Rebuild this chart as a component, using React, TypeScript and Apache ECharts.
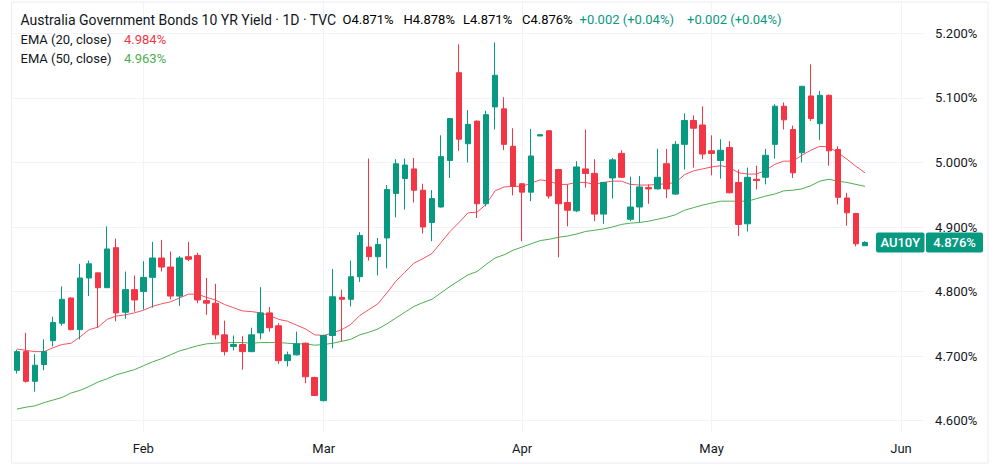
import React, { useEffect, useRef } from "react";
import * as echarts from "echarts";

const dates = [
  "2026-01-13","2026-01-14","2026-01-15","2026-01-16","2026-01-19","2026-01-20","2026-01-21","2026-01-22","2026-01-23","2026-01-26","2026-01-27","2026-01-28","2026-01-29","2026-01-30",
  "2026-02-02","2026-02-03","2026-02-04","2026-02-05","2026-02-06","2026-02-09","2026-02-10","2026-02-11","2026-02-12","2026-02-13","2026-02-16","2026-02-17","2026-02-18","2026-02-19","2026-02-20","2026-02-23","2026-02-24","2026-02-25","2026-02-26","2026-02-27",
  "2026-03-02","2026-03-03","2026-03-04","2026-03-05","2026-03-06","2026-03-09","2026-03-10","2026-03-11","2026-03-12","2026-03-13","2026-03-16","2026-03-17","2026-03-18","2026-03-19","2026-03-20","2026-03-23","2026-03-24","2026-03-25","2026-03-26","2026-03-27","2026-03-30","2026-03-31",
  "2026-04-01","2026-04-02","2026-04-06","2026-04-07","2026-04-08","2026-04-09","2026-04-10","2026-04-13","2026-04-14","2026-04-15","2026-04-16","2026-04-17","2026-04-20","2026-04-21","2026-04-22","2026-04-23","2026-04-24","2026-04-27","2026-04-28","2026-04-29","2026-04-30",
  "2026-05-01","2026-05-04","2026-05-05","2026-05-06","2026-05-07","2026-05-08","2026-05-11","2026-05-12","2026-05-13","2026-05-14","2026-05-15","2026-05-18","2026-05-19","2026-05-20","2026-05-21","2026-05-22","2026-05-25","2026-05-26","2026-05-27","2026-05-28","2026-05-29",
  "2026-06-01","2026-06-02","2026-06-03"
];

const monthNames = ["Jan","Feb","Mar","Apr","May","Jun","Jul","Aug","Sep","Oct","Nov","Dec"];

const openV = [
  4.678,4.707,4.661,4.687,4.724,4.751,4.790,4.741,4.821,4.829,
  4.806,4.868,4.768,4.803,4.800,4.822,4.852,4.838,4.793,4.854,
  4.856,4.786,4.782,4.733,4.715,4.718,4.707,4.736,4.767,4.747,
  4.693,4.702,4.720,4.667,4.631,4.732,4.791,4.788,4.823,4.869,
  4.854,4.883,4.952,4.975,4.990,4.957,4.907,4.931,5.003,5.139,
  5.029,5.064,4.936,5.086,5.083,5.025,4.967,4.954,5.041,5.049,
  4.989,4.938,4.925,4.990,4.983,4.920,4.976,5.014,4.912,4.931,
  4.961,4.959,4.998,4.951,5.028,5.065,5.058,5.018,5.003,5.023,
  4.969,4.905,4.974,4.977,5.028,5.087,5.051,5.015,5.103,5.060,
  5.104,5.020,4.945,4.921,4.871
];
const highV = [
  4.710,4.736,4.703,4.726,4.761,4.808,4.791,4.843,4.848,4.829,
  4.901,4.882,4.831,4.825,4.847,4.877,4.880,4.862,4.855,4.877,
  4.860,4.821,4.812,4.755,4.732,4.731,4.744,4.807,4.776,4.751,
  4.707,4.738,4.721,4.668,4.733,4.835,4.803,4.848,4.892,5.006,
  4.883,4.965,5.005,5.006,5.007,4.967,4.957,5.042,5.068,5.183,
  5.081,5.065,5.080,5.186,5.101,5.053,4.968,5.052,5.043,5.050,
  4.990,4.966,5.002,5.051,5.005,4.970,5.007,5.019,4.978,4.979,
  4.966,5.021,5.021,5.033,5.076,5.073,5.087,5.042,5.036,5.033,
  4.989,4.992,4.995,5.021,5.090,5.093,5.057,5.118,5.152,5.111,
  5.105,5.025,4.953,4.922,4.878
];
const lowV = [
  4.673,4.659,4.645,4.678,4.715,4.747,4.740,4.726,4.793,4.744,
  4.806,4.754,4.758,4.769,4.772,4.775,4.831,4.788,4.778,4.847,
  4.782,4.764,4.726,4.701,4.709,4.679,4.706,4.726,4.738,4.688,
  4.684,4.701,4.658,4.638,4.630,4.712,4.723,4.777,4.815,4.848,
  4.825,4.836,4.915,4.927,4.938,4.890,4.878,4.930,4.976,5.018,
  5.000,4.914,4.932,5.051,5.019,4.949,4.878,4.940,5.041,4.944,
  4.853,4.901,4.923,4.961,4.909,4.905,4.944,4.976,4.909,4.907,
  4.936,4.958,4.945,4.950,4.989,4.992,5.005,4.980,4.975,4.952,
  4.886,4.893,4.958,4.966,5.006,5.051,4.976,5.000,5.064,5.035,
  4.995,4.935,4.902,4.870,4.871
];
const closeV = [
  4.707,4.661,4.686,4.707,4.752,4.788,4.741,4.821,4.843,4.806,
  4.866,4.767,4.803,4.787,4.822,4.852,4.838,4.793,4.852,4.850,
  4.787,4.782,4.733,4.707,4.718,4.707,4.733,4.767,4.744,4.693,
  4.702,4.719,4.668,4.639,4.732,4.792,4.788,4.823,4.887,4.854,
  4.873,4.958,4.998,4.996,4.957,4.900,4.944,5.009,5.068,5.036,
  5.059,4.936,5.074,5.135,5.028,4.963,4.954,5.010,5.043,4.948,
  4.936,4.926,4.993,4.983,4.920,4.969,5.004,4.977,4.931,4.962,
  4.959,4.977,4.959,5.028,5.065,5.053,5.013,5.014,5.019,4.953,
  4.904,4.977,4.972,5.011,5.087,5.066,4.984,5.118,5.068,5.104,
  5.018,4.946,4.922,4.874,4.876
];
const ema20 = [
  4.711,4.709,4.707,4.707,4.713,4.718,4.720,4.730,4.741,4.745,
  4.757,4.762,4.764,4.767,4.771,4.777,4.781,4.784,4.790,4.796,
  4.796,4.791,4.787,4.780,4.775,4.770,4.769,4.767,4.763,4.757,
  4.754,4.748,4.742,4.733,4.732,4.736,4.741,4.749,4.763,4.772,
  4.781,4.798,4.816,4.830,4.844,4.851,4.859,4.876,4.893,4.907,
  4.922,4.923,4.935,4.956,4.962,4.963,4.963,4.968,4.973,4.971,
  4.966,4.966,4.969,4.969,4.966,4.969,4.971,4.971,4.966,4.965,
  4.965,4.966,4.967,4.969,4.981,4.987,4.990,4.993,4.995,4.992,
  4.984,4.982,4.982,4.988,4.997,5.002,5.002,5.011,5.019,5.025,
  5.024,5.015,5.005,4.994,4.984
];
const ema50 = [
  4.618,4.621,4.623,4.628,4.632,4.636,4.643,4.647,4.653,4.660,
  4.665,4.671,4.675,4.679,4.685,4.691,4.696,4.702,4.708,4.712,
  4.716,4.719,4.720,4.721,4.721,4.721,4.720,4.721,4.721,4.721,
  4.720,4.719,4.719,4.717,4.718,4.720,4.723,4.726,4.733,4.737,
  4.742,4.750,4.759,4.768,4.777,4.783,4.788,4.798,4.808,4.817,
  4.826,4.831,4.842,4.852,4.857,4.864,4.869,4.874,4.879,4.881,
  4.884,4.886,4.889,4.893,4.895,4.897,4.900,4.904,4.906,4.907,
  4.909,4.912,4.915,4.919,4.926,4.930,4.934,4.937,4.940,4.940,
  4.940,4.940,4.944,4.948,4.951,4.956,4.957,4.959,4.964,4.971,
  4.974,4.971,4.969,4.966,4.963
];

const UP = "#089981";
const DOWN = "#F23645";
const EMA20C = "#F7525F";
const EMA50C = "#4CAF50";
const TEXT = "#131722";
const GRID = "#f0f3fa";
const FONT = "Roboto, 'Open Sans', sans-serif";

const monthOf = (d: string) => parseInt(d.slice(5, 7), 10) - 1;
const isMonthStart = (i: number) => i > 0 && monthOf(dates[i]) !== monthOf(dates[i - 1]);

export default function App() {
  const ref = useRef<HTMLDivElement>(null);
  useEffect(() => {
    if (!ref.current) return;
    const chart = echarts.init(ref.current, undefined, { renderer: "svg" });
    const n = closeV.length;
    const candle = openV.map((o, i) => [o, closeV[i], lowV[i], highV[i]]);
    const last = closeV[n - 1];
    const chg = last - closeV[n - 2];
    const chgPct = (chg / closeV[n - 2]) * 100;
    const fmt = (v: number) => v.toFixed(3) + "%";
    const sign = (v: number) => (v >= 0 ? "+" : "");
    const chgText = `${sign(chg)}${chg.toFixed(3)} (${sign(chgPct)}${chgPct.toFixed(2)}%)`;

    const gridLeft = 12.49;
    const gridRight = 76.4;

    chart.setOption({
      animation: false,
      backgroundColor: "#ffffff",
      textStyle: { fontFamily: FONT },
      grid: [
        { left: gridLeft, right: gridRight, top: 2, bottom: 38 },
        { left: gridLeft, right: gridRight, top: 33.3, bottom: 49.3 },
      ],
      xAxis: [
        {
          type: "category",
          gridIndex: 0,
          data: dates,
          boundaryGap: true,
          axisLine: { show: false },
          axisTick: { show: false },
          axisLabel: {
            interval: (i: number) => isMonthStart(i),
            formatter: (v: string) => monthNames[monthOf(v)],
            color: TEXT,
            fontSize: 13,
            fontFamily: FONT,
            margin: 10,
          },
          splitLine: {
            show: true,
            interval: (i: number) => isMonthStart(i),
            alignWithLabel: true,
            lineStyle: { color: GRID, width: 1 },
          },
        },
        { type: "category", gridIndex: 1, data: dates, show: false },
      ],
      yAxis: [
        { type: "value", gridIndex: 0, min: 4.5825, max: 5.2485, show: false, splitLine: { show: false } },
        {
          type: "value",
          gridIndex: 1,
          position: "right",
          min: 4.6,
          max: 5.2,
          interval: 0.1,
          axisLine: { show: false },
          axisTick: { show: false },
          axisLabel: {
            formatter: (v: number) => fmt(v),
            color: TEXT,
            fontSize: 13,
            fontFamily: FONT,
            margin: 11.5,
            align: "left",
          },
          splitLine: { show: true, lineStyle: { color: GRID, width: 1 } },
        },
      ],
      series: [
        {
          type: "line",
          name: "EMA50",
          xAxisIndex: 0,
          yAxisIndex: 0,
          data: ema50,
          symbol: "none",
          lineStyle: { color: EMA50C, width: 1 },
          z: 2,
        },
        {
          type: "line",
          name: "EMA20",
          xAxisIndex: 0,
          yAxisIndex: 0,
          data: ema20,
          symbol: "none",
          lineStyle: { color: EMA20C, width: 1 },
          z: 2,
        },
        {
          type: "candlestick",
          xAxisIndex: 0,
          yAxisIndex: 0,
          data: candle,
          barWidth: 6,
          itemStyle: { color: UP, color0: DOWN, borderColor: UP, borderColor0: DOWN, borderWidth: 1 },
          z: 3,
        },
      ],
    });

    const py = chart.convertToPixel({ yAxisIndex: 0 }, last) as number;
    const rich = {
      l: { color: TEXT, fontSize: 13, fontFamily: FONT },
      v: { color: UP, fontSize: 13, fontFamily: FONT },
    };
    const hdrY = 19.5;
    const hdr = (x: number, label: string, value: number) => ({
      type: "text",
      x,
      y: hdrY,
      z: 100,
      style: { text: `{l|${label}}{v|${fmt(value)}}`, rich, verticalAlign: "middle" },
    });
    chart.setOption({
      graphic: [
        {
          type: "rect",
          shape: { x: 11.5, y: 2, width: 976.5, height: 461 },
          style: { fill: "none", stroke: "#e9ecf2", lineWidth: 1 },
          silent: true,
          z: 1,
        },
        {
          type: "text",
          x: 20.5,
          y: hdrY,
          z: 100,
          style: { text: "Australia Government Bonds 10 YR Yield · 1D · TVC", fill: TEXT, fontSize: 14, fontFamily: FONT, verticalAlign: "middle" },
        },
        hdr(342.5, "O", openV[n - 1]),
        hdr(403.5, "H", highV[n - 1]),
        hdr(463, "L", lowV[n - 1]),
        hdr(522, "C", closeV[n - 1]),
        { type: "text", x: 579.5, y: hdrY, z: 100, style: { text: chgText, fill: UP, fontSize: 13, fontFamily: FONT, verticalAlign: "middle" } },
        { type: "text", x: 687, y: hdrY, z: 100, style: { text: chgText, fill: UP, fontSize: 13, fontFamily: FONT, verticalAlign: "middle" } },
        { type: "text", x: 20.5, y: 39.5, z: 100, style: { text: "EMA (20, close)", fill: TEXT, fontSize: 13, fontFamily: FONT, verticalAlign: "middle" } },
        { type: "text", x: 124, y: 39.5, z: 100, style: { text: fmt(ema20[n - 1]), fill: DOWN, fontSize: 13, fontFamily: FONT, verticalAlign: "middle" } },
        { type: "text", x: 20.5, y: 58.5, z: 100, style: { text: "EMA (50, close)", fill: TEXT, fontSize: 13, fontFamily: FONT, verticalAlign: "middle" } },
        { type: "text", x: 124, y: 58.5, z: 100, style: { text: fmt(ema50[n - 1]), fill: EMA50C, fontSize: 13, fontFamily: FONT, verticalAlign: "middle" } },
        {
          type: "rect",
          z: 100,
          shape: { x: 876, y: py - 10, width: 48.5, height: 20, r: 2 },
          style: { fill: UP },
        },
        {
          type: "text",
          z: 101,
          x: 900.25,
          y: py,
          style: { text: "AU10Y", fill: "#ffffff", fontSize: 13, fontWeight: 500, fontFamily: FONT, align: "center", verticalAlign: "middle" },
        },
        {
          type: "rect",
          z: 100,
          shape: { x: 926, y: py - 10, width: 57, height: 20, r: 2 },
          style: { fill: UP },
        },
        {
          type: "text",
          z: 101,
          x: 954.5,
          y: py,
          style: { text: fmt(last), fill: "#ffffff", fontSize: 13, fontWeight: 500, fontFamily: FONT, align: "center", verticalAlign: "middle" },
        },
      ],
    });

    return () => chart.dispose();
  }, []);
  return (
    <div
      ref={ref}
      style={{ position: "absolute", left: 0, top: 0, width: 1000, height: 470, background: "#fff" }}
    />
  );
}
